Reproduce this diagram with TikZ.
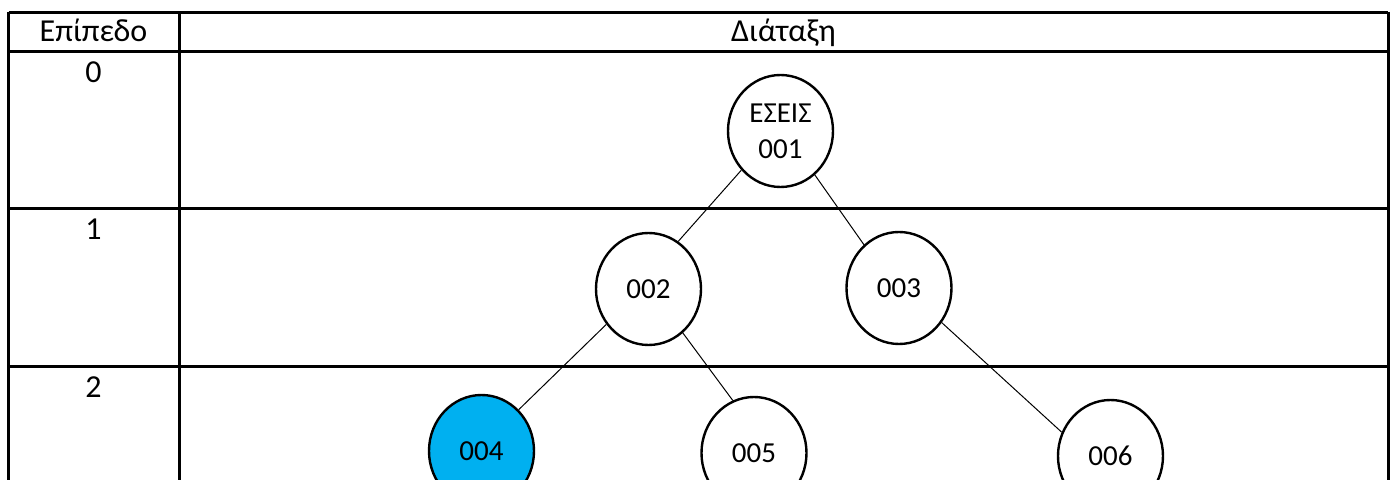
\documentclass[tikz,border=0pt]{standalone}
\usepackage{fontspec}
\setmainfont{Carlito}
\usetikzlibrary{shapes.geometric}
\begin{document}
\begin{tikzpicture}[x=0.5pt,y=-0.5pt,
  grid/.style={line width=1.5pt},
  tnode/.style={ellipse, draw, line width=1.2pt, minimum width=52.5pt, minimum height=56pt, inner sep=0pt,
    font=\fontsize{14.5}{18}\selectfont, align=center},
  conn/.style={line width=0.5pt},
  lbl/.style={font=\fontsize{16}{19}\selectfont, anchor=base}]
\useasboundingbox (0,0) rectangle (1394,480);
% table
\draw[grid] (8.5,12.5) -- (1388,12.5);
\draw[grid] (8.5,52) -- (1388,52);
\draw[grid] (8.5,209) -- (1388,209);
\draw[grid] (8.5,367) -- (1388,367);
\draw[grid] (8.5,11.75) -- (8.5,490);
\draw[grid] (179,11.75) -- (179,490);
\draw[grid] (1388,11.75) -- (1388,490);
% labels
\node[lbl] (h1) at (93.5,42) {Επίπεδο};
\node[lbl] (h2) at (783.5,42) {Διάταξη};
\node[lbl] (l0) at (93.5,83) {0};
\node[lbl] (l1) at (93.5,240) {1};
\node[lbl] (l2) at (93.5,398) {2};
% tree
\node[tnode] (n1) at (780.5,131) {ΕΣΕΙΣ\\001};
\node[tnode] (n2) at (648.5,289) {002};
\node[tnode] (n3) at (899,288) {003};
\node[tnode, fill={rgb,255:red,0;green,176;blue,240}] (n4) at (481.5,451) {004};
\node[tnode] (n5) at (754,453) {005};
\node[tnode] (n6) at (1110.5,456) {006};
\draw[conn] (n1.225) -- (n2.58);
\draw[conn] (n1.308) -- (n3.129);
\draw[conn] (n2.220) -- (n4.48);
\draw[conn] (n2.308) -- (n5.112);
\draw[conn] (n3.321) -- (n6.154);
\end{tikzpicture}
\end{document}
